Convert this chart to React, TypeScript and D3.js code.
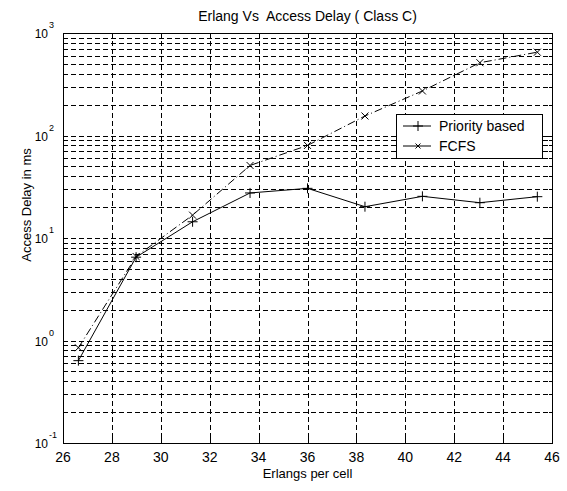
import React from "react";
import * as d3 from "d3";

// values
const erlangs = [26.63, 28.99, 31.3, 33.65, 36.0, 38.35, 40.7, 43.05, 45.4];
const priorityDelay = [0.636, 6.5, 14.4, 27.5, 30.5, 20.2, 25.5, 22.1, 25.3];
const fcfsDelay = [0.85, 6.6, 16.7, 51, 80, 155, 272, 513, 650];
const xTicks = [26, 28, 30, 32, 34, 36, 38, 40, 42, 44, 46];
const yDecades = [-1, 0, 1, 2, 3];
const seriesNames = ["Priority based", "FCFS"];

const width = 567;
const height = 491;
const margin = { top: 33, right: 15, bottom: 48, left: 63 };
const font = "'Liberation Sans', Arial, sans-serif";

const x = d3
  .scaleLinear()
  .domain([26, 46])
  .range([margin.left, width - margin.right]);

const y = d3
  .scaleLog()
  .domain([0.1, 1000])
  .range([height - margin.bottom, margin.top]);

// every 1..9 step inside each decade, used for grid and minor ticks
const minorValues: number[] = [];
yDecades.slice(0, -1).forEach((d) => {
  for (let m = 1; m <= 9; m++) {
    const v = m * Math.pow(10, d);
    if (v > 0.1) minorValues.push(v);
  }
});

const line = d3
  .line<number>()
  .x((_, i) => x(erlangs[i]))
  .y((d) => y(d));

const Plus = ({ cx, cy, s = 5 }: { cx: number; cy: number; s?: number }) => (
  <path d={`M${cx - s},${cy}H${cx + s}M${cx},${cy - s}V${cy + s}`} stroke="#000" strokeWidth={1} />
);

const Cross = ({ cx, cy, s = 3.5 }: { cx: number; cy: number; s?: number }) => (
  <path
    d={`M${cx - s},${cy - s}L${cx + s},${cy + s}M${cx - s},${cy + s}L${cx + s},${cy - s}`}
    stroke="#000"
    strokeWidth={1}
  />
);

const App = () => {
  const [x0, x1] = x.range();
  const [y0, y1] = y.range();
  const dash = "5,3";
  const dashDot = "8,3,1,3";
  const px = (v: number) => Math.round(v) + 0.5;

  return (
    <svg width={width} height={height} style={{ display: "block", position: "absolute", left: 0, top: 0, background: "#fff" }}>
      <rect x={0} y={0} width={width} height={height} fill="#fff" />

      {/* grid */}
      <g stroke="#000" strokeWidth={1} strokeDasharray={dash} shapeRendering="crispEdges">
        {xTicks.slice(1, -1).map((t) => (
          <line key={"gx" + t} x1={px(x(t))} x2={px(x(t))} y1={y1} y2={y0} />
        ))}
        {minorValues.map((v) => (
          <line key={"gy" + v} x1={x0} x2={x1} y1={px(y(v))} y2={px(y(v))} />
        ))}
      </g>

      {/* ticks */}
      <g stroke="#000" strokeWidth={1} shapeRendering="crispEdges">
        {xTicks.map((t) => (
          <g key={"tx" + t}>
            <line x1={px(x(t))} x2={px(x(t))} y1={y0} y2={y0 - 5} />
            <line x1={px(x(t))} x2={px(x(t))} y1={y1} y2={y1 + 5} />
          </g>
        ))}
        {minorValues.map((v) => {
          const len = Number.isInteger(Math.log10(v)) ? 5 : 3;
          return (
            <g key={"ty" + v}>
              <line x1={x0} x2={x0 + len} y1={px(y(v))} y2={px(y(v))} />
              <line x1={x1} x2={x1 - len} y1={px(y(v))} y2={px(y(v))} />
            </g>
          );
        })}
      </g>

      {/* series */}
      <path d={line(fcfsDelay) || ""} fill="none" stroke="#000" strokeWidth={1} strokeDasharray={dashDot} />
      <path d={line(priorityDelay) || ""} fill="none" stroke="#000" strokeWidth={1} />
      {fcfsDelay.map((d, i) => (
        <Cross key={"c" + i} cx={x(erlangs[i])} cy={y(d)} />
      ))}
      {priorityDelay.map((d, i) => (
        <Plus key={"p" + i} cx={x(erlangs[i])} cy={y(d)} />
      ))}

      {/* box */}
      <rect x={x0 + 0.5} y={y1 + 0.5} width={x1 - x0} height={y0 - y1} fill="none" stroke="#000" strokeWidth={1} shapeRendering="crispEdges" />

      {/* tick labels */}
      <g fontFamily={font} fill="#000">
        {xTicks.map((t) => (
          <text key={"lx" + t} x={x(t)} y={y0 + 19} textAnchor="middle" fontSize={14}>
            {t}
          </text>
        ))}
        {yDecades.map((d) => (
          <g key={"ly" + d}>
            <text x={x0 - 15} y={y(Math.pow(10, d)) + 5} textAnchor="end" fontSize={12}>
              10
            </text>
            <text x={x0 - 14} y={y(Math.pow(10, d)) - 5} fontSize={9} textAnchor="start">
              {d}
            </text>
          </g>
        ))}
      </g>

      {/* legend */}
      <g fontFamily={font} fontSize={14}>
        <rect x={396.5} y={114.5} width={146} height={44} fill="#fff" stroke="#000" shapeRendering="crispEdges" />
        <line x1={403} x2={431} y1={126} y2={126} stroke="#000" />
        <Plus cx={418} cy={126} s={5} />
        <text x={439} y={131}>{seriesNames[0]}</text>
        <line x1={403} x2={431} y1={146} y2={146} stroke="#000" />
        <Cross cx={418} cy={146} s={2.5} />
        <text x={439} y={151}>{seriesNames[1]}</text>
      </g>

      {/* titles */}
      <text x={(x0 + x1) / 2} y={21} textAnchor="middle" fontFamily={font} fontSize={14} style={{ whiteSpace: "pre" }}>
        Erlang Vs  Access Delay ( Class C)
      </text>
      <text x={(x0 + x1) / 2} y={478} textAnchor="middle" fontFamily={font} fontSize={13}>
        Erlangs per cell
      </text>
      <text
        transform={`translate(31,205) rotate(-90)`}
        textAnchor="middle"
        fontFamily={font}
        fontSize={13}
      >
        Access Delay in ms
      </text>
    </svg>
  );
};

export default App;
